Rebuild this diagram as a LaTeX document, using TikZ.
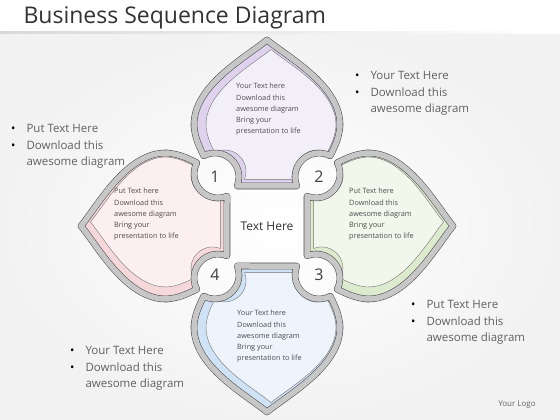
\documentclass[tikz,border=0pt]{standalone}
\usepackage{fontspec}
\setmainfont{Open Sans}

\definecolor{lilac}{HTML}{F3EFF9}
\definecolor{lilacdark}{HTML}{DED2EE}
\definecolor{rose}{HTML}{FCEFF0}
\definecolor{rosedark}{HTML}{F6D8DA}
\definecolor{mint}{HTML}{F2F7EC}
\definecolor{mintdark}{HTML}{DCEBCD}
\definecolor{sky}{HTML}{EDF4FC}
\definecolor{skydark}{HTML}{D0E2F5}

% outline of one petal, pointing up, centred on the middle of the flower
\newcommand{\petalpath}{(0,186) .. controls (-22,168) and (-74,140) .. (-73,100)
  .. controls (-72,88) and (-68,80) .. (-63.3,70.2)
  arc[start angle=118, end angle=-22, radius=24] -- (29.75,40)
  arc[start angle=202, end angle=62, radius=24]
  .. controls (68,80) and (72,88) .. (73,100)
  .. controls (74,140) and (22,168) .. (0,186) -- cycle}

% #1 rotation, #2 dark fill, #3 light fill, #4 page offset
\newcommand{\petal}[4]{%
  \begin{scope}[shift={(ctr)}, rotate=#1]
    \fill[#2] \petalpath;
    \begin{scope}
      \clip \petalpath;
      \filldraw[page, fill=#3, shift={(#4,11)}, scale=0.89] \petalpath;
    \end{scope}
    \draw[band] \petalpath;
  \end{scope}}

\newcommand{\bullist}[1]{\begin{tabular}{@{}l@{\hspace{11pt}}l@{}}
  {\color{black}\textbullet} & #1\\
  {\color{black}\textbullet} & Download this\\
  & awesome diagram\end{tabular}}

\tikzset{
  band/.style={draw=black!70, line width=0.55pt, double=black!22, double distance=5.5pt, line join=round},
  page/.style={draw=black!55, line width=0.4pt},
  ptext/.style={align=left, anchor=north west, inner sep=0pt, text=black!70, font=\fontsize{7.3}{11.3}\selectfont},
  num/.style={text=black!75, font=\fontsize{16}{16}\selectfont},
  bullets/.style={anchor=north west, inner sep=0pt, text=black!62, font=\fontsize{11.5}{16.5}\selectfont},
}

\begin{document}
\begin{tikzpicture}[x=1pt, y=1pt]
\useasboundingbox (0,0) rectangle (560,420);
% background
\shade[inner color=white, outer color=black!5] (0,0) rectangle (560,387);
\fill[white] (0,387) rectangle (560,420);
\shade[left color=black!15, right color=white] (0,386) rectangle (560,388);
\node[anchor=west, text=black!80, font=\fontsize{23}{23}\selectfont] (title) at (20,402) {Business Sequence Diagram};

\coordinate (ctr) at (267,194);

% the four petals
\petal{0}{lilacdark}{lilac}{4}
\petal{90}{rosedark}{rose}{4}
\petal{180}{skydark}{sky}{-4}
\petal{-90}{mintdark}{mint}{-4}

% petal texts
\node[ptext] (ttop) at (236,337) {Your Text here\\Download this\\awesome diagram\\Bring your\\presentation to life};
\node[ptext] (tleft) at (114,232) {Put Text here\\Download this\\awesome diagram\\Bring your\\presentation to life};
\node[ptext] (tright) at (349,232) {Put Text here\\Download this\\awesome diagram\\Bring your\\presentation to life};
\node[ptext] (tbottom) at (237,110) {Your Text here\\Download this\\awesome diagram\\Bring your\\presentation to life};

% numbers and centre
\node[num] (n1) at (215,243) {1};
\node[num] (n2) at (319,243) {2};
\node[num] (n3) at (319,145) {3};
\node[num] (n4) at (215,145) {4};
\node[text=black!80, font=\fontsize{12}{12}\selectfont] (mid) at (ctr) {Text Here};

% side lists
\node[bullets] (listtr) at (355,352) {\bullist{Your Text Here}};
\node[bullets] (listl) at (11,299) {\bullist{Put Text Here}};
\node[bullets] (listbr) at (411,123) {\bullist{Put Text Here}};
\node[bullets] (listbl) at (70,77) {\bullist{Your Text Here}};

\node[text=black!60, font=\fontsize{8}{8}\selectfont] (logo) at (517,15) {Your Logo};
\end{tikzpicture}
\end{document}
